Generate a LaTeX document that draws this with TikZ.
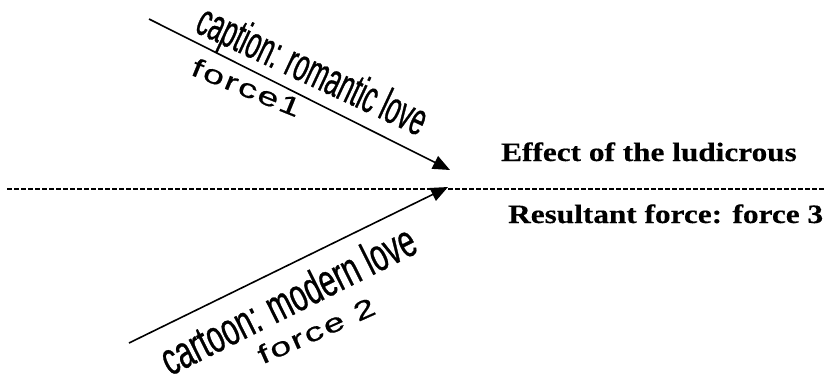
\documentclass[tikz,border=0pt]{standalone}
\usepackage{fontspec}
\usetikzlibrary{arrows.meta}
\newfontfamily\capfont[FakeStretch=0.55,FakeBold=0.6]{Liberation Sans}
\newfontfamily\cartfont[FakeStretch=0.64,FakeBold=0.6]{Liberation Sans}
\newfontfamily\forcefont[FakeStretch=1.45,LetterSpace=8,FakeBold=0.6]{Liberation Sans}
\newfontfamily\rfont[FakeStretch=1.18,FakeBold=0.4]{Liberation Serif}
\tikzset{
  vec/.style={line width=1.6pt,-{Triangle[length=17pt,width=14pt]}},
  base/.style={line width=2.5pt,dash pattern=on 5pt off 2pt},
  slanted/.style={inner sep=0pt,anchor=base},
  side/.style={inner sep=0pt,anchor=base west,font=\rfont\bfseries\fontsize{26.5}{30}\selectfont},
}
\begin{document}
\begin{tikzpicture}[x=1pt,y=-1pt]
\useasboundingbox (0,0) rectangle (824,378);
\coordinate (a1s) at (149,19);
\coordinate (a1e) at (450,170);
\coordinate (a2s) at (129,343);
\coordinate (a2e) at (448,187);
\coordinate (dl) at (7,189);
\coordinate (dr) at (824,189);
\draw[base] (dl) -- (dr);
\draw[vec] (a1s) -- (a1e);
\draw[vec] (a2s) -- (a2e);
\node[slanted,rotate=-25,font=\capfont\fontsize{46}{50}\selectfont] (cap) at (306,84) {caption: romantic love};
\node[slanted,rotate=-22,font=\forcefont\fontsize{26}{28}\selectfont] (f1) at (243,96) {force1};
\node[slanted,rotate=26.5,font=\cartfont\fontsize{46}{50}\selectfont] (cart) at (295,314) {cartoon: modern love};
\node[slanted,rotate=24,font=\forcefont\fontsize{26}{28}\selectfont] (f2) at (320,339) {force 2};
\node[side] (eff) at (501,161) {Effect of the ludicrous};
\node[side] (res) at (508,223) {Resultant force: force 3};
\end{tikzpicture}
\end{document}
